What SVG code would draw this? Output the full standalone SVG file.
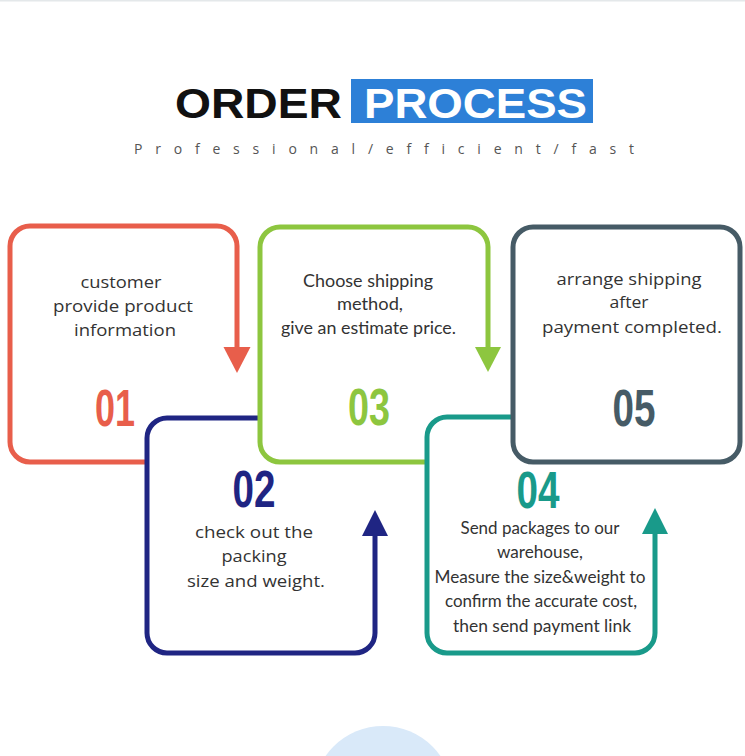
<svg xmlns="http://www.w3.org/2000/svg" width="745" height="756" viewBox="0 0 745 756">
<style>
.bg{fill:#ffffff}
.box{fill:none;stroke-width:5;stroke-linecap:butt;stroke-linejoin:round}
.boxf{fill:#ffffff;stroke-width:5}
.cover{fill:#ffffff;stroke:none}
.t1{font-family:"Open Sans","DejaVu Sans",sans-serif;font-size:17px;fill:#333333;text-anchor:middle}
.t2{font-family:Lato,"Open Sans",sans-serif;font-size:17px;fill:#333333;text-anchor:middle}
.num{font-family:"Liberation Sans",Arial,sans-serif;font-weight:bold;font-size:52px;text-anchor:middle}
.title{font-family:"Liberation Sans",Arial,sans-serif;font-weight:bold;font-size:43px}
.sub{font-family:"Open Sans","Liberation Sans",sans-serif;font-size:14px;fill:#555555;font-variant-ligatures:none;font-feature-settings:"liga" 0}
</style>
<rect class="bg" x="0" y="0" width="745" height="756"/>
<rect x="0" y="0" width="745" height="1.5" fill="#e4e8ea"/>

<g id="title">
  <text class="title" x="175" y="118" fill="#111111" textLength="167" lengthAdjust="spacingAndGlyphs">ORDER</text>
  <rect x="351" y="79" width="242" height="44" fill="#2d80d7"/>
  <text class="title" x="364" y="118" fill="#ffffff" textLength="223" lengthAdjust="spacingAndGlyphs">PROCESS</text>
  <text class="sub" x="134" y="154" textLength="500" lengthAdjust="spacing">Professional/efficient/fast</text>
</g>

<g id="step1">
  <path class="box" stroke="#e85e4b" d="M237,350 V246 A20,20 0 0 0 217,226 H30 A20,20 0 0 0 10,246 V442 A20,20 0 0 0 30,462 H200"/>
  <polygon fill="#e85e4b" points="223.5,347 250.5,347 237,373"/>
  <text class="t1" x="121" y="288" textLength="81" lengthAdjust="spacingAndGlyphs">customer</text>
  <text class="t1" x="123" y="312" textLength="140" lengthAdjust="spacingAndGlyphs">provide product</text>
  <text class="t1" x="125" y="336" textLength="102" lengthAdjust="spacingAndGlyphs">information</text>
  <text class="num" x="115" y="426" fill="#e85e4b" textLength="40" lengthAdjust="spacingAndGlyphs">01</text>
</g>

<g id="step2">
  <rect class="cover" x="147" y="418" width="228" height="235" rx="20"/>
  <path class="box" stroke="#1f2583" d="M300,418 H167 A20,20 0 0 0 147,438 V633 A20,20 0 0 0 167,653 H355 A20,20 0 0 0 375,633 V533"/>
  <polygon fill="#1f2583" points="362,536 388,536 375,510"/>
  <text class="num" x="254" y="507" fill="#1f2583" textLength="43" lengthAdjust="spacingAndGlyphs">02</text>
  <text class="t1" x="254" y="538" textLength="118" lengthAdjust="spacingAndGlyphs">check out the</text>
  <text class="t1" x="254" y="562" textLength="65" lengthAdjust="spacingAndGlyphs">packing</text>
  <text class="t1" x="256" y="587" textLength="138" lengthAdjust="spacingAndGlyphs">size and weight.</text>
</g>

<g id="step3">
  <rect class="cover" x="260" y="227" width="228" height="235" rx="20"/>
  <path class="box" stroke="#8dc63f" d="M488,349 V247 A20,20 0 0 0 468,227 H280 A20,20 0 0 0 260,247 V442 A20,20 0 0 0 280,462 H450"/>
  <polygon fill="#8dc63f" points="475,347 501,347 488,372"/>
  <text class="t2" x="368" y="287" textLength="130" lengthAdjust="spacingAndGlyphs">Choose shipping</text>
  <text class="t2" x="370" y="310" textLength="66" lengthAdjust="spacingAndGlyphs">method,</text>
  <text class="t2" x="368.5" y="334" textLength="175" lengthAdjust="spacingAndGlyphs">give an estimate price.</text>
  <text class="num" x="369" y="425" fill="#8dc63f" textLength="42" lengthAdjust="spacingAndGlyphs">03</text>
</g>

<g id="step4">
  <rect class="cover" x="427" y="417" width="228" height="236" rx="20"/>
  <path class="box" stroke="#199a8a" d="M560,417 H447 A20,20 0 0 0 427,437 V633 A20,20 0 0 0 447,653 H635 A20,20 0 0 0 655,633 V531"/>
  <polygon fill="#199a8a" points="642,534 668,534 655,508"/>
  <text class="num" x="538" y="508" fill="#199a8a" textLength="43" lengthAdjust="spacingAndGlyphs">04</text>
  <text class="t2" x="540" y="534" textLength="159" lengthAdjust="spacingAndGlyphs">Send packages to our</text>
  <text class="t2" x="540" y="558" textLength="86" lengthAdjust="spacingAndGlyphs">warehouse,</text>
  <text class="t2" x="540" y="583" textLength="211" lengthAdjust="spacingAndGlyphs">Measure the size&amp;weight to</text>
  <text class="t2" x="541" y="607" textLength="192" lengthAdjust="spacingAndGlyphs">confirm the accurate cost,</text>
  <text class="t2" x="542" y="632" textLength="178" lengthAdjust="spacingAndGlyphs">then send payment link</text>
</g>

<g id="step5">
  <rect class="boxf" stroke="#465b66" x="513" y="227" width="227" height="235" rx="20"/>
  <text class="t1" x="629" y="285" textLength="145" lengthAdjust="spacingAndGlyphs">arrange shipping</text>
  <text class="t1" x="629" y="308" textLength="39" lengthAdjust="spacingAndGlyphs">after</text>
  <text class="t1" x="632" y="333" textLength="180" lengthAdjust="spacingAndGlyphs">payment completed.</text>
  <text class="num" x="634" y="426" fill="#465b66" textLength="43" lengthAdjust="spacingAndGlyphs">05</text>
</g>

<g id="connectors"></g>

<circle cx="383" cy="796" r="70" fill="#d9e9f9"/>
</svg>
